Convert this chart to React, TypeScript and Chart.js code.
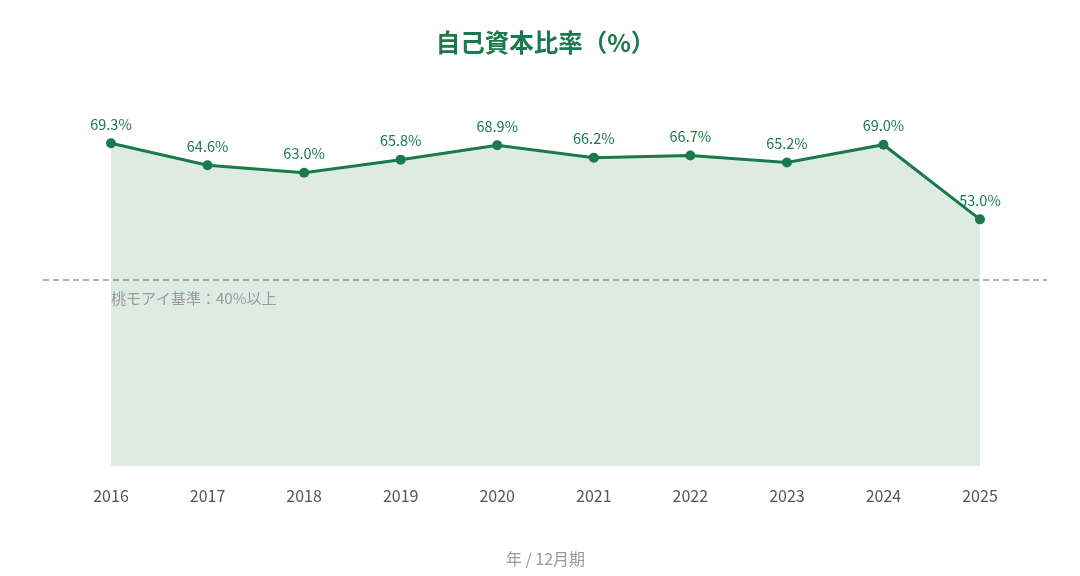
import React, { useEffect, useRef } from "react";
import { Chart, registerables } from "chart.js";

Chart.register(...registerables);

const years = ["2016", "2017", "2018", "2019", "2020", "2021", "2022", "2023", "2024", "2025"];
const equityRatio = [69.3, 64.6, 63.0, 65.8, 68.9, 66.2, 66.7, 65.2, 69.0, 53.0];
const benchmarkValue = 40;
const benchmarkLabel = "桃モアイ基準：40%以上";
const titleText = "自己資本比率（%）";
const xAxisTitle = "年 / 12月期";

const GREEN = "#1a7a4c";
const FONT = "'Noto Sans CJK JP', 'Noto Sans', sans-serif";

const overlayPlugin = {
  id: "overlay",
  beforeDatasetsDraw(chart: any) {
    const { ctx, chartArea, scales } = chart;
    const y = scales.y.getPixelForValue(benchmarkValue);
    ctx.save();
    ctx.strokeStyle = "#999999";
    ctx.lineWidth = 1.5;
    ctx.setLineDash([6, 4]);
    ctx.beginPath();
    ctx.moveTo(chartArea.left - 68, y);
    ctx.lineTo(chartArea.right + 67, y);
    ctx.stroke();
    ctx.restore();
  },
  afterDatasetsDraw(chart: any) {
    const { ctx, chartArea, scales } = chart;
    const y = scales.y.getPixelForValue(benchmarkValue);
    ctx.save();
    ctx.fillStyle = "#999999";
    ctx.font = `15px ${FONT}`;
    ctx.textAlign = "left";
    ctx.textBaseline = "middle";
    ctx.fillText(benchmarkLabel, chartArea.left, y + 18);

    const meta = chart.getDatasetMeta(0);
    ctx.fillStyle = GREEN;
    ctx.font = `14.5px ${FONT}`;
    ctx.textAlign = "center";
    ctx.textBaseline = "middle";
    meta.data.forEach((pt: any, i: number) => {
      ctx.fillText(equityRatio[i].toFixed(1) + "%", pt.x, pt.y - 19);
    });
    ctx.restore();
  },
};

export default function App() {
  const ref = useRef<HTMLCanvasElement>(null);
  useEffect(() => {
    document.body.style.margin = "0";
    const chart = new Chart(ref.current!, {
      type: "line",
      data: {
        labels: years,
        datasets: [
          {
            data: equityRatio,
            borderColor: GREEN,
            borderWidth: 3,
            backgroundColor: "rgba(26,122,76,0.15)",
            fill: "origin",
            pointRadius: 5,
            pointBackgroundColor: GREEN,
            pointBorderColor: GREEN,
            pointBorderWidth: 0,
            tension: 0,
          },
        ],
      },
      options: {
        responsive: false,
        animation: false,
        layout: { padding: { left: 111, right: 100, top: 0, bottom: 0 } },
        plugins: {
          legend: { display: false },
          tooltip: { enabled: false },
          title: {
            display: true,
            text: titleText,
            color: GREEN,
            font: { family: FONT, size: 24.5, weight: "bold" },
            padding: { top: 28, bottom: 36 },
          },
        },
        scales: {
          x: {
            offset: false,
            grid: { display: false, drawTicks: false },
            border: { display: false },
            ticks: { color: "#555555", font: { family: FONT, size: 16 }, padding: 20 },
            title: {
              display: true,
              text: xAxisTitle,
              color: "#999999",
              font: { family: FONT, size: 16 },
              padding: { top: 24, bottom: 7 },
            },
          },
          y: {
            display: false,
            min: 0,
            max: 80,
          },
        },
      },
      plugins: [overlayPlugin],
    });
    return () => chart.destroy();
  }, []);
  return <canvas ref={ref} width={1080} height={576} />;
}
